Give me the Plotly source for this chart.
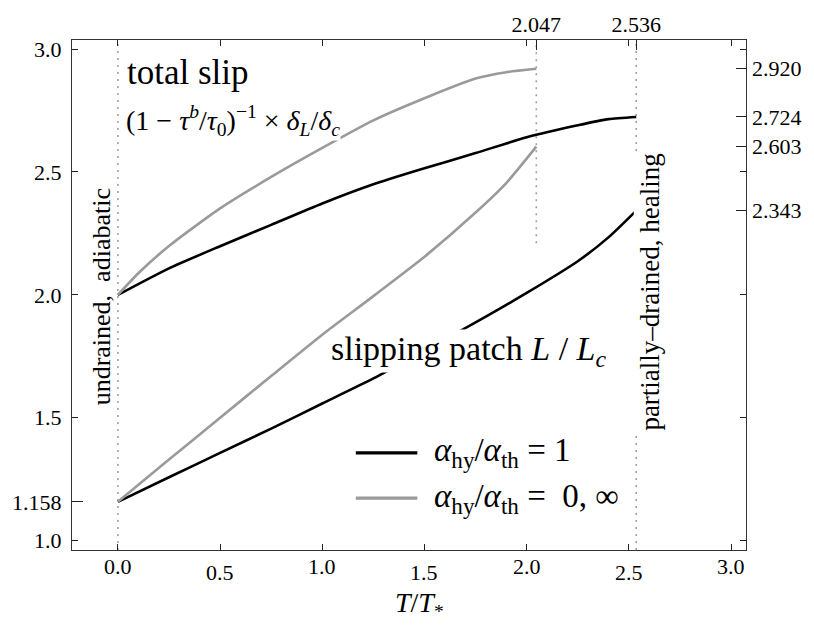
import plotly.graph_objects as go

# ---------------- data ----------------
x_black_slip = [0, 0.25, 0.5, 0.75, 1.0, 1.25, 1.5, 1.75, 2.0, 2.25, 2.4, 2.536]
y_black_slip = [2.000, 2.108, 2.198, 2.285, 2.372, 2.450, 2.515, 2.577, 2.641, 2.690, 2.715, 2.724]

x_grey_slip = [0, 0.1, 0.25, 0.5, 0.75, 1.0, 1.25, 1.5, 1.75, 1.9, 2.047]
y_grey_slip = [2.000, 2.088, 2.199, 2.352, 2.480, 2.598, 2.710, 2.800, 2.880, 2.906, 2.920]

x_black_patch = [0, 0.25, 0.5, 0.75, 1.0, 1.25, 1.5, 1.75, 2.0, 2.25, 2.4, 2.536]
y_black_patch = [1.158, 1.258, 1.357, 1.456, 1.558, 1.660, 1.773, 1.888, 2.008, 2.137, 2.234, 2.343]

x_grey_patch = [0, 0.25, 0.5, 0.75, 1.0, 1.25, 1.5, 1.75, 1.9, 2.047]
y_grey_patch = [1.158, 1.330, 1.500, 1.670, 1.838, 1.995, 2.155, 2.335, 2.455, 2.603]

bottom_ticks = [0.0, 0.5, 1.0, 1.5, 2.0, 2.5, 3.0]
bottom_labels = ["0.0", "0.5", "1.0", "1.5", "2.0", "2.5", "3.0"]
left_ticks = [1.0, 1.158, 1.5, 2.0, 2.5, 3.0]
left_labels = ["1.0", "1.158", "1.5", "2.0", "2.5", "3.0"]
top_ticks = [2.047, 2.536]
top_labels = ["2.047", "2.536"]
right_ticks = [2.343, 2.603, 2.724, 2.920]
right_labels = ["2.343", "2.603", "2.724", "2.920"]
minor_y = [1.0, 1.5, 2.0, 2.5, 3.0]
special_left = [1.158]

# vertical dotted guides: (x, y_from, y_to)
guides = [(0.0, None, None), (2.047, 2.21, None), (2.536, None, None)]

X_RANGE = [-0.2245, 3.073]
Y_RANGE = [0.962, 3.037]

BLACK = "#000000"
GREY = "#9a9a9a"
FONT = "Liberation Serif, Times New Roman, serif"

fig = go.Figure()

curve_line = dict(width=2.6, shape="spline", smoothing=0.6)
fig.add_trace(go.Scatter(x=x_black_slip, y=y_black_slip, mode="lines",
                         line=dict(color=BLACK, **curve_line), showlegend=False))
fig.add_trace(go.Scatter(x=x_grey_slip, y=y_grey_slip, mode="lines",
                         line=dict(color=GREY, **curve_line), showlegend=False))
fig.add_trace(go.Scatter(x=x_black_patch, y=y_black_patch, mode="lines",
                         line=dict(color=BLACK, **curve_line), showlegend=False))
fig.add_trace(go.Scatter(x=x_grey_patch, y=y_grey_patch, mode="lines",
                         line=dict(color=GREY, **curve_line), showlegend=False))
# dummy traces so overlay axes are drawn
fig.add_trace(go.Scatter(x=[None], y=[None], xaxis="x2", yaxis="y2", showlegend=False))
fig.add_trace(go.Scatter(x=[None], y=[None], xaxis="x", yaxis="y3", showlegend=False))

shapes = []
for gx, y0, y1 in guides:
    shapes.append(dict(type="line", xref="x", yref="y",
                       x0=gx, x1=gx,
                       y0=Y_RANGE[0] if y0 is None else y0,
                       y1=Y_RANGE[1] if y1 is None else y1,
                       line=dict(color="#a0a0a0", width=1.6, dash="2px,5px"),
                       layer="below"))

# legend lines (manual)
leg_x0, leg_x1 = 1.164, 1.465
leg_y = [1.357, 1.173]
shapes.append(dict(type="line", xref="x", yref="y", x0=leg_x0, x1=leg_x1,
                   y0=leg_y[0], y1=leg_y[0], line=dict(color=BLACK, width=3.2)))
shapes.append(dict(type="line", xref="x", yref="y", x0=leg_x0, x1=leg_x1,
                   y0=leg_y[1], y1=leg_y[1], line=dict(color=GREY, width=3.2)))

annotations = []
# bottom tick labels (staggered like the original)
for i, (v, t) in enumerate(zip(bottom_ticks, bottom_labels)):
    annotations.append(dict(x=v, y=0, xref="x", yref="paper", text=t, showarrow=False,
                            xanchor="center", yanchor="middle",
                            yshift=-16 if i % 2 == 0 else -22,
                            font=dict(family=FONT, size=22, color="black")))

annotations += [
    dict(x=0.037, y=2.905, xref="x", yref="y", text="total slip", showarrow=False,
         xanchor="left", yanchor="middle", font=dict(family=FONT, size=35, color="black")),
    dict(x=0.037, y=2.708, xref="x", yref="y",
         text="(1 − <i>τ</i><sup><i>b</i></sup>/<i>τ</i><sub>0</sub>)"
              "<sup>−1</sup> × <i>δ</i><sub><i>L</i></sub>/<i>δ</i><sub><i>c</i></sub>",
         showarrow=False, xanchor="left", yanchor="middle",
         font=dict(family=FONT, size=28, color="black"),
         bgcolor="white", borderpad=0),
    dict(x=1.038, y=1.770, xref="x", yref="y",
         text="slipping patch <i>L</i> / <i>L</i><sub><i>c</i></sub>",
         showarrow=False, xanchor="left", yanchor="middle",
         font=dict(family=FONT, size=34, color="black"),
         bgcolor="white", borderpad=0),
    dict(x=-0.079, y=1.993, xref="x", yref="y", text="undrained,  adiabatic",
         showarrow=False, textangle=-90, xanchor="center", yanchor="middle",
         font=dict(family=FONT, size=26, color="black")),
    dict(x=2.603, y=2.013, xref="x", yref="y", text="partially–drained, healing",
         showarrow=False, textangle=-90, xanchor="center", yanchor="middle",
         font=dict(family=FONT, size=27, color="black"), bgcolor="white", borderpad=1),
    dict(x=1.536, y=leg_y[0], xref="x", yref="y",
         text="<i>α</i><sub>hy</sub>/<i>α</i><sub>th</sub> = 1",
         showarrow=False, xanchor="left", yanchor="middle",
         font=dict(family=FONT, size=33, color="black")),
    dict(x=1.536, y=leg_y[1], xref="x", yref="y",
         text="<i>α</i><sub>hy</sub>/<i>α</i><sub>th</sub> =  0, ∞",
         showarrow=False, xanchor="left", yanchor="middle",
         font=dict(family=FONT, size=33, color="black")),
    dict(x=0.515, y=-0.1076, xref="paper", yref="paper",
         text="<i>T</i>/<i>T</i><sub>*</sub>", showarrow=False,
         xanchor="center", yanchor="middle",
         font=dict(family=FONT, size=28, color="black")),
]

tickfont = dict(family=FONT, size=22, color="black")
axis_common = dict(showgrid=False, zeroline=False, ticks="inside", tickcolor="#222",
                   tickwidth=1.2)

fig.update_layout(
    width=814, height=628,
    margin=dict(l=72, r=62, t=39, b=78),
    plot_bgcolor="white", paper_bgcolor="white",
    showlegend=False,
    shapes=shapes, annotations=annotations,
    xaxis=dict(range=X_RANGE, tickvals=bottom_ticks, showticklabels=False,
               ticklen=6, showline=True, linecolor="#333", linewidth=1.4, mirror=True,
               **axis_common),
    xaxis2=dict(range=X_RANGE, overlaying="x", side="top", anchor="y",
                tickvals=top_ticks, ticktext=top_labels, ticklen=10, tickfont=tickfont,
                ticklabelstandoff=3,
                minor=dict(tickvals=bottom_ticks, ticklen=6, ticks="inside",
                           tickcolor="#222", tickwidth=1.2),
                **axis_common),
    yaxis=dict(range=Y_RANGE, tickvals=left_ticks, ticktext=left_labels, ticklen=6,
               tickfont=tickfont, showline=True, linecolor="#333", linewidth=1.4,
               mirror=True, ticklabelstandoff=5, **axis_common),
    yaxis2=dict(range=Y_RANGE, overlaying="y", side="right", anchor="x",
                tickvals=right_ticks, ticktext=right_labels, ticklen=10, tickfont=tickfont,
                ticklabelstandoff=5,
                minor=dict(tickvals=minor_y, ticklen=6, ticks="inside",
                           tickcolor="#222", tickwidth=1.2),
                **axis_common),
    yaxis3=dict(range=Y_RANGE, overlaying="y", side="left", anchor="x",
                tickvals=special_left, showticklabels=False, ticklen=11,
                **axis_common),
)

fig.write_html("out.html")
